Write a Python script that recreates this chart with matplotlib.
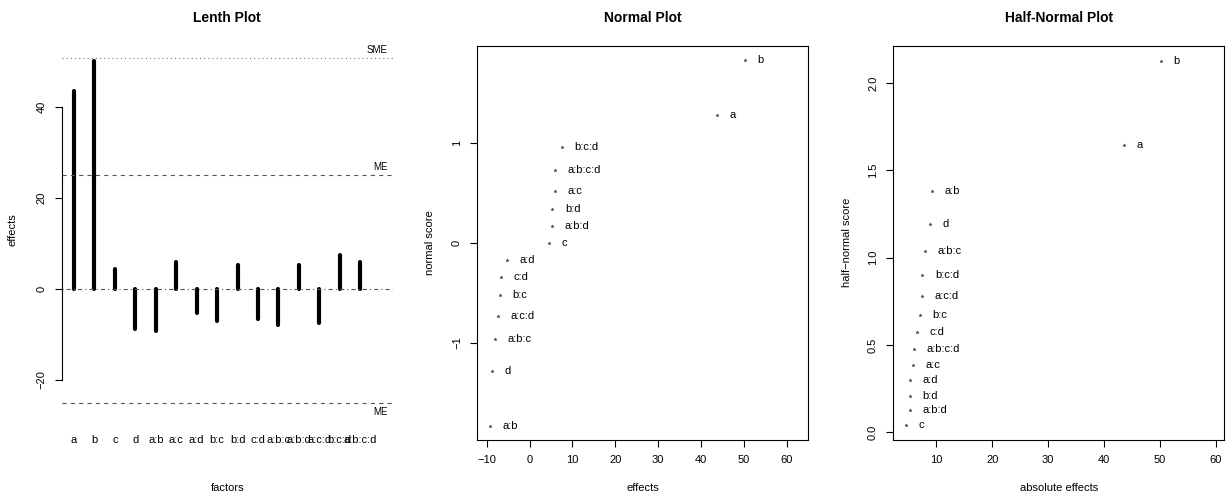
import numpy as np
import matplotlib
matplotlib.use("Agg")
import matplotlib.pyplot as plt

plt.rcParams['font.family'] = ['Liberation Sans', 'DejaVu Sans']
plt.rcParams['lines.scale_dashes'] = False

# ---- data ----
factors = ['a', 'b', 'c', 'd', 'a:b', 'a:c', 'a:d', 'b:c', 'b:d', 'c:d',
           'a:b:c', 'a:b:d', 'a:c:d', 'b:c:d', 'a:b:c:d']
effects = [43.6, 50.2, 4.5, -8.8, -9.3, 5.9, -5.35, -7.0, 5.3, -6.6,
           -8.0, 5.25, -7.45, 7.5, 6.0]
ME = 25.0
SME = 50.8
# normal scores (ascending order of effects)
normal_scores = [-1.834, -1.282, -0.967, -0.728, -0.524, -0.341, -0.168, 0.0,
                 0.168, 0.341, 0.524, 0.728, 0.967, 1.282, 1.834]
# half-normal scores (ascending order of |effects|)
half_scores = [0.042, 0.126, 0.210, 0.297, 0.385, 0.477, 0.573, 0.674,
               0.783, 0.903, 1.036, 1.192, 1.383, 1.645, 2.128]

W, H = 1231, 496
fig = plt.figure(figsize=(W / 100, H / 100), dpi=100)


def rect(l, r, t, b):
    return [l / W, 1 - b / H, (r - l) / W, (b - t) / H]


def ftext(x, y, s, **kw):
    fig.text(x / W, 1 - y / H, s, ha='center', va='center', **kw)


FS = 8
pt_col = '#555555'
MS = 2.3

# ---------------- Lenth plot ----------------
ax1 = fig.add_axes(rect(61.7, 393, 44.1, 416.5))
x = np.arange(1, len(factors) + 1)
ax1.vlines(x, 0, effects, color='black', lw=3, capstyle='round')
ax1.axhline(SME, color='#777777', lw=0.8, linestyle=(0, (0.8, 2.2)))
ax1.axhline(ME, color='#555555', lw=0.8, linestyle=(0, (3, 3)))
ax1.axhline(-ME, color='#555555', lw=0.8, linestyle=(0, (3, 3)))
ax1.axhline(0, color='#555555', lw=0.8, linestyle=(0, (0.8, 2.2, 3, 2.2)))
ax1.set_xlim(0.4, 16.6)
ax1.set_ylim(-28.03, 53.83)
for sp in ['top', 'right', 'bottom']:
    ax1.spines[sp].set_visible(False)
ax1.spines['left'].set_bounds(-20, 40)
ax1.spines['left'].set_linewidth(0.8)
ax1.set_yticks([-20, 0, 20, 40])
ax1.set_yticklabels(['\u221220', '0', '20', '40'])
ax1.tick_params(axis='y', length=5, width=0.8, pad=6, labelsize=FS)
for lab in ax1.get_yticklabels():
    lab.set_rotation(90)
    lab.set_va('center')
ax1.set_xticks([])
for xi, f in zip(x, factors):
    ax1.annotate(f, (xi, 0), xycoords=('data', 'axes fraction'),
                 xytext=(0, -17), textcoords='offset points',
                 ha='center', va='center', fontsize=FS)
ax1.annotate('SME', (0.985, SME), xycoords=('axes fraction', 'data'),
             xytext=(0, 6), textcoords='offset points', ha='right',
             va='center', fontsize=7)
ax1.annotate('ME', (0.985, ME), xycoords=('axes fraction', 'data'),
             xytext=(0, 6), textcoords='offset points', ha='right',
             va='center', fontsize=7)
ax1.annotate('ME', (0.985, -ME), xycoords=('axes fraction', 'data'),
             xytext=(0, -7), textcoords='offset points', ha='right',
             va='center', fontsize=7)
ftext(227.3, 17.5, 'Lenth Plot', fontsize=10, fontweight='bold')
ftext(227.3, 488, 'factors', fontsize=FS)
ftext(13, 230, 'effects', fontsize=FS, rotation=90)

# ---------------- Normal plot ----------------
eff = np.array(effects)
order = np.argsort(eff, kind='stable')
ax2 = fig.add_axes(rect(477.3, 808.3, 45.7, 440))
ax2.plot(eff[order], normal_scores, linestyle='none', marker='*',
         markersize=MS, markeredgewidth=0.4, color=pt_col)
for xv, yv, i in zip(eff[order], normal_scores, order):
    ax2.annotate(factors[i], (xv, yv), xytext=(9, 0),
                 textcoords='offset points', ha='left', va='center',
                 fontsize=FS)
ax2.set_xlim(-12.2, 65.0)
ax2.set_ylim(-1.977, 1.979)
ax2.set_xticks(range(-10, 61, 10))
ax2.set_yticks([-1, 0, 1])
ax2.set_yticklabels(['\u22121', '0', '1'])
ax2.set_xticklabels(['\u221210', '0', '10', '20', '30', '40', '50', '60'])
ax2.tick_params(length=5, width=0.8, pad=6, labelsize=FS)
for lab in ax2.get_yticklabels():
    lab.set_rotation(90)
    lab.set_va('center')
for sp in ax2.spines.values():
    sp.set_linewidth(0.8)
ftext(642.8, 17.5, 'Normal Plot', fontsize=10, fontweight='bold')
ftext(642.8, 487.7, 'effects', fontsize=FS)
ftext(430, 242.8, 'normal score', fontsize=FS, rotation=90)

# ---------------- Half-normal plot ----------------
aeff = np.abs(eff)
order_h = np.argsort(aeff, kind='stable')
ax3 = fig.add_axes(rect(893.3, 1224.3, 45.7, 440))
ax3.plot(aeff[order_h], half_scores, linestyle='none', marker='*',
         markersize=MS, markeredgewidth=0.4, color=pt_col)
for xv, yv, i in zip(aeff[order_h], half_scores, order_h):
    ax3.annotate(factors[i], (xv, yv), xytext=(9, 0),
                 textcoords='offset points', ha='left', va='center',
                 fontsize=FS)
ax3.set_xlim(2.305, 61.54)
ax3.set_ylim(-0.044, 2.214)
ax3.set_xticks(range(10, 61, 10))
ax3.set_yticks([0.0, 0.5, 1.0, 1.5, 2.0])
ax3.set_yticklabels(['0.0', '0.5', '1.0', '1.5', '2.0'])
ax3.tick_params(length=5, width=0.8, pad=6, labelsize=FS)
for lab in ax3.get_yticklabels():
    lab.set_rotation(90)
    lab.set_va('center')
for sp in ax3.spines.values():
    sp.set_linewidth(0.8)
ftext(1058.8, 17.5, 'Half-Normal Plot', fontsize=10, fontweight='bold')
ftext(1058.8, 487.7, 'absolute effects', fontsize=FS)
ftext(846.7, 242.8, 'half\u2212normal score', fontsize=FS, rotation=90)

fig.savefig('out.png', dpi=100)
